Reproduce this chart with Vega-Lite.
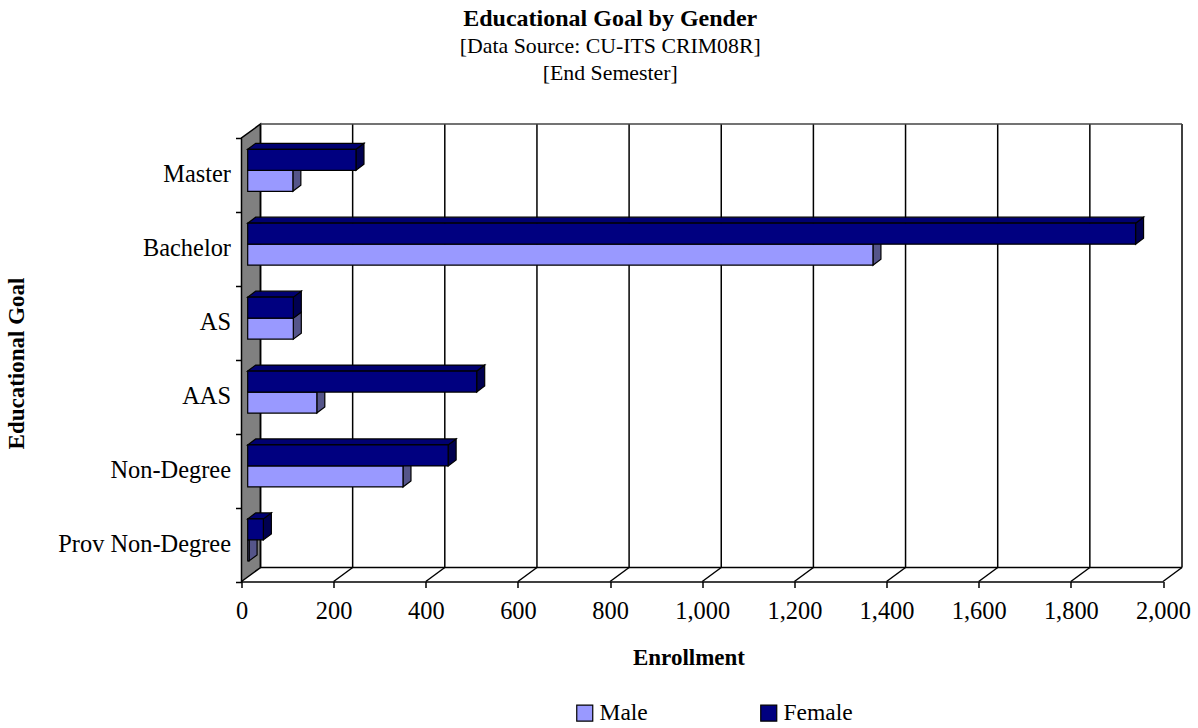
{
"$schema":"https://vega.github.io/schema/vega-lite/v6.json",
"autosize":{"type":"none"},
"width":921.5,"height":443.5,
"padding":{"left":241.5,"top":138,"right":35,"bottom":146.5},
"background":"white",
"config":{"view":{"stroke":null},"font":"Liberation Serif"},
"title":{"text":"Educational Goal by Gender","subtitle":["[Data Source: CU-ITS CRIM08R]","[End Semester]"],"font":"Liberation Serif","fontSize":24,"fontWeight":"bold","subtitleFont":"Liberation Serif","subtitleFontSize":21.8,"subtitleColor":"black","subtitleLineHeight":27,"subtitlePadding":5,"color":"black","anchor":"middle","frame":"group","dx":-92,"offset":36},
"datasets":{
"bars":[
{"goal":"Master","gender":"Male","n":98},{"goal":"Master","gender":"Female","n":235},
{"goal":"Bachelor","gender":"Male","n":1357},{"goal":"Bachelor","gender":"Female","n":1927},
{"goal":"AS","gender":"Male","n":99},{"goal":"AS","gender":"Female","n":99},
{"goal":"AAS","gender":"Male","n":150},{"goal":"AAS","gender":"Female","n":497},
{"goal":"Non-Degree","gender":"Male","n":337},{"goal":"Non-Degree","gender":"Female","n":435},
{"goal":"Prov Non-Degree","gender":"Male","n":3},{"goal":"Prov Non-Degree","gender":"Female","n":34}],
"ticks":[{"v":0},{"v":200},{"v":400},{"v":600},{"v":800},{"v":1000},{"v":1200},{"v":1400},{"v":1600},{"v":1800},{"v":2000}]
},
"data":{"name":"bars"},
"layer":[
{"data":{"values":[{"v":0}]},
 "mark":{"type":"point","filled":true,"opacity":1,"size":4,"fill":"#808080","stroke":"black","strokeWidth":1.5,"shape":"M0,221.75L19,207.75L19,-235.75L0,-221.75Z"},
 "encoding":{"x":{"field":"v","type":"quantitative","scale":{"domain":[0,2000],"nice":false,"zero":false},
   "axis":{"values":[0,200,400,600,800,1000,1200,1400,1600,1800,2000],"format":",d","title":"Enrollment","grid":false,"domainColor":"black","domainWidth":1.5,"tickColor":"black","tickWidth":1.5,"tickSize":6,"labelFont":"Liberation Serif","labelFontSize":24.4,"labelColor":"black","labelPadding":12,"labelFlush":false,"labelOverlap":false,"titleFont":"Liberation Serif","titleFontSize":23,"titleFontWeight":"bold","titleColor":"black","titleX":447,"titleY":75.5,"titleBaseline":"middle"}}}},
{"data":{"name":"ticks"},"mark":{"type":"rule","color":"black","strokeWidth":1.5,"xOffset":19,"x2Offset":19},
 "encoding":{"x":{"field":"v","type":"quantitative"},"y":{"value":-14},"y2":{"value":429.5}}},
{"data":{"name":"ticks"},"transform":[{"filter":"datum.v>0"}],"mark":{"type":"rule","color":"black","strokeWidth":1.5,"x2Offset":19},
 "encoding":{"x":{"field":"v","type":"quantitative"},"x2":{"field":"v"},"y":{"value":443.5},"y2":{"value":429.5}}},
{"data":{"values":[{"a":0,"b":2000}]},"mark":{"type":"rule","color":"#444","strokeWidth":1.5,"xOffset":19,"x2Offset":19},
 "encoding":{"x":{"field":"a","type":"quantitative"},"x2":{"field":"b"},"y":{"value":-14}}},
{"data":{"values":[{"a":0,"b":2000}]},"mark":{"type":"rule","color":"black","strokeWidth":1.5,"xOffset":19,"x2Offset":19},
 "encoding":{"x":{"field":"a","type":"quantitative"},"x2":{"field":"b"},"y":{"value":429.5}}},
{"mark":{"type":"point","filled":true,"opacity":1,"size":4,"xOffset":6.2,"stroke":"black","strokeWidth":1.2,
   "fill":{"expr":"datum.gender=='Male'?'#55558A':'#000050'"},
   "shape":"M0,-10.5L8,-16.5L8,4.5L0,10.5Z"},
 "encoding":{"x":{"field":"n","type":"quantitative"},
   "y":{"field":"goal","type":"nominal","sort":["Master","Bachelor","AS","AAS","Non-Degree","Prov Non-Degree"],"scale":{"paddingInner":0,"paddingOuter":0},
     "axis":{"title":"Educational Goal","tickBand":"extent","domainColor":"black","domainWidth":1.5,"tickColor":"black","tickWidth":1.5,"tickSize":6,"labelFont":"Liberation Serif","labelFontSize":24.4,"labelColor":"black","labelPadding":5,"titleFont":"Liberation Serif","titleFontSize":23,"titleFontWeight":"bold","titleColor":"black","titleX":-225,"titleY":225,"titleBaseline":"middle"}},
   "yOffset":{"field":"gender","sort":["Female","Male"],"scale":{"paddingInner":0,"paddingOuter":0.76,"align":0.354}}}},
{"transform":[{"filter":"datum.gender=='Female'"}],
 "mark":{"type":"point","filled":true,"opacity":1,"size":4,"xOffset":6.2,"stroke":"black","strokeWidth":1.2,"fill":"#000070",
   "shape":{"expr":"'M0,-10.5L8,-16.5L'+(8+scale('x',datum.n))+',-16.5L'+scale('x',datum.n)+',-10.5Z'"}},
 "encoding":{"x":{"datum":0,"type":"quantitative"},
   "y":{"field":"goal","type":"nominal","sort":["Master","Bachelor","AS","AAS","Non-Degree","Prov Non-Degree"]},
   "yOffset":{"field":"gender","sort":["Female","Male"]}}},
{"mark":{"type":"rect","xOffset":6.2,"x2Offset":6.2,"stroke":"black","strokeWidth":1.2},
 "encoding":{"x":{"field":"n","type":"quantitative"},"x2":{"datum":0},
   "y":{"field":"goal","type":"nominal","sort":["Master","Bachelor","AS","AAS","Non-Degree","Prov Non-Degree"]},
   "yOffset":{"field":"gender","sort":["Female","Male"]},
   "color":{"field":"gender","type":"nominal","scale":{"domain":["Male","Female"],"range":["#9999FF","#000080"]},
     "legend":{"title":null,"orient":"none","legendX":331.5,"legendY":563,"direction":"horizontal","columns":2,"symbolType":"square","symbolSize":256,"symbolStrokeColor":"black","symbolStrokeWidth":1.2,"symbolOpacity":1,"labelFont":"Liberation Serif","labelFontSize":23.5,"labelColor":"black","labelOffset":3,"columnPadding":109,"gridAlign":"each"}}}}
]
}
